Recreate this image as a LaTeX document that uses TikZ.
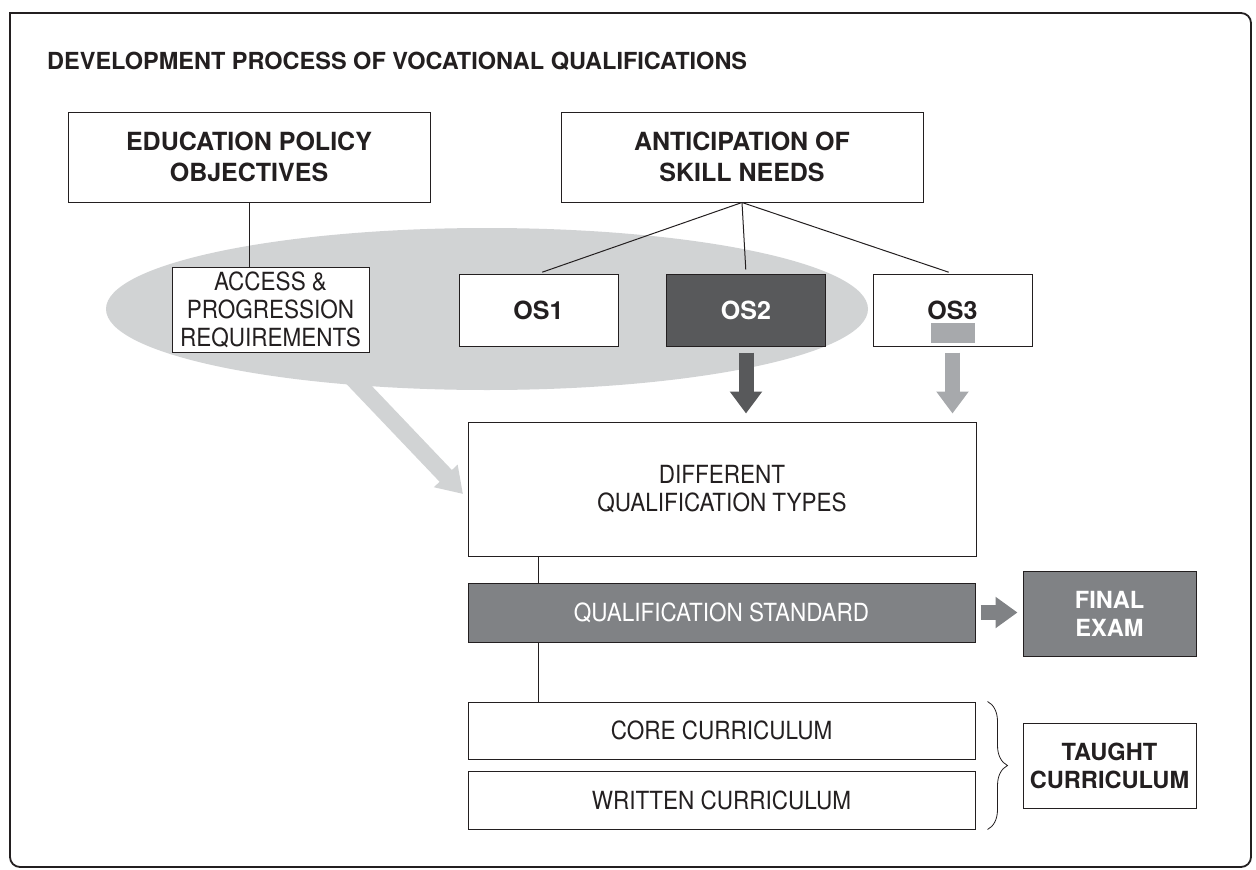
\documentclass[tikz,border=0pt]{standalone}
\usepackage{fontspec}
\setmainfont{TeX Gyre Heros}
\newfontfamily\thinfont{TeX Gyre Heros}[FakeStretch=0.9]
\usetikzlibrary{shapes.geometric,arrows.meta,decorations.pathreplacing}
\definecolor{bubblegrey}{HTML}{D1D3D4}
\definecolor{darkgrey}{HTML}{58595B}
\definecolor{midgrey}{HTML}{808285}
\definecolor{lightgrey}{HTML}{A7A9AC}
\definecolor{ink}{HTML}{231F20}

\begin{document}
\begin{tikzpicture}[x=1pt,y=-1pt,
		box/.style={draw=ink, line width=1pt, fill=white, inner sep=0pt, align=center, text=ink},
		heavy/.style={font=\fontsize{25}{31}\selectfont\bfseries},
		heavysmall/.style={font=\fontsize{23.6}{28}\selectfont\bfseries},
		thin/.style={font=\thinfont\fontsize{25}{28}\selectfont},
		bubble/.style={ellipse, fill=bubblegrey, minimum width=762pt, minimum height=162pt, inner sep=0pt},
		link/.style={draw=ink, line width=1pt},
		fan/.style={link, shorten >=4pt},
		bigarrow/.style={bubblegrey, line width=17pt, -{Triangle[length=25pt 0 0,width=31pt 0 0]}},
		downarrow/.style={line width=15pt, -{Triangle[length=22pt 0 0,width=31pt 0 0]}, shorten <=6pt, shorten >=8pt},
		sidearrow/.style={midgrey, line width=15pt, -{Triangle[length=22pt 0 0,width=30pt 0 0]}, shorten <=5pt, shorten >=5pt},
		curly/.style={draw=ink, line width=0.8pt, decorate, decoration={brace, amplitude=20pt}}]
		\useasboundingbox (0,0) rectangle (1256,870);
		
		\draw[ink, line width=1.8pt] (10,440) -- (10,13) -- (600,13) [rounded corners=10pt] -- (1251,13) -- (1251,867) -- (10,867) -- cycle;
		
		\node[anchor=base west, inner sep=0pt, text=ink, font=\fontsize{23.5}{28}\selectfont\bfseries] (title) at (47,69) {DEVELOPMENT PROCESS OF VOCATIONAL QUALIFICATIONS};
		
		\node[box, heavy, minimum width=362pt, minimum height=90pt] (policy) at (249,157) {EDUCATION POLICY\\OBJECTIVES};
		\node[box, heavy, minimum width=362pt, minimum height=90pt] (skills) at (742,157) {ANTICIPATION OF\\SKILL NEEDS};
		
		\node[bubble] (bubble) at (487,309) {};
		\coordinate (bigtip) at (463,494);
		\draw[bigarrow, shorten <=-15pt] (bubble.211) -- (bigtip);
		
		\node[box, thin, minimum width=197pt, minimum height=85pt] (access) at (270.5,309.5) {ACCESS \&\\PROGRESSION\\REQUIREMENTS};
		\node[box, heavy, minimum width=159pt, minimum height=72pt] (os1) at (538.5,310) {OS1};
		\node[box, heavy, fill=darkgrey, text=white, minimum width=159pt, minimum height=72pt] (os2) at (746,310) {OS2};
		\node[box, heavy, minimum width=159pt, minimum height=72pt] (os3) at (952.5,310) {OS3};
		\fill[lightgrey] (931,323) rectangle (975,343);
		
		\draw[link] (policy.south) -- (policy.south |- access.north);
		\foreach \n in {os1,os2,os3}
			\draw[fan] (skills.south) -- (\n.north);
		
		\node[box, thin, minimum width=508pt, minimum height=134pt] (types) at (722,489) {DIFFERENT\\QUALIFICATION TYPES};
		\node[box, thin, fill=midgrey, text=white, minimum width=507pt, minimum height=59pt] (standard) at (721.5,612.5) {QUALIFICATION STANDARD};
		\node[box, heavysmall, fill=midgrey, text=white, minimum width=173pt, minimum height=85pt] (exam) at (1109.5,613.5) {FINAL\\EXAM};
		\node[box, thin, minimum width=507pt, minimum height=57pt] (core) at (721.5,730.5) {CORE CURRICULUM};
		\node[box, thin, minimum width=507pt, minimum height=58pt] (written) at (721.5,800) {WRITTEN CURRICULUM};
		\node[box, heavysmall, minimum width=173pt, minimum height=85pt] (taught) at (1109.5,765.5) {TAUGHT\\CURRICULUM};
		
		\draw[downarrow, darkgrey] (os2.south) -- (os2.south |- types.north);
		\draw[downarrow, lightgrey] (os3.south) -- (os3.south |- types.north);
		
		\draw[link] (types.south -| os1) -- (standard.north -| os1);
		\draw[link] (standard.south -| os1) -- (core.north -| os1);
		\draw[sidearrow] (standard.east) -- (standard.east -| exam.west);
		
		\draw[curly] ([xshift=12pt]core.north east) -- ([xshift=12pt]written.south east);
		
	\end{tikzpicture}
\end{document}
